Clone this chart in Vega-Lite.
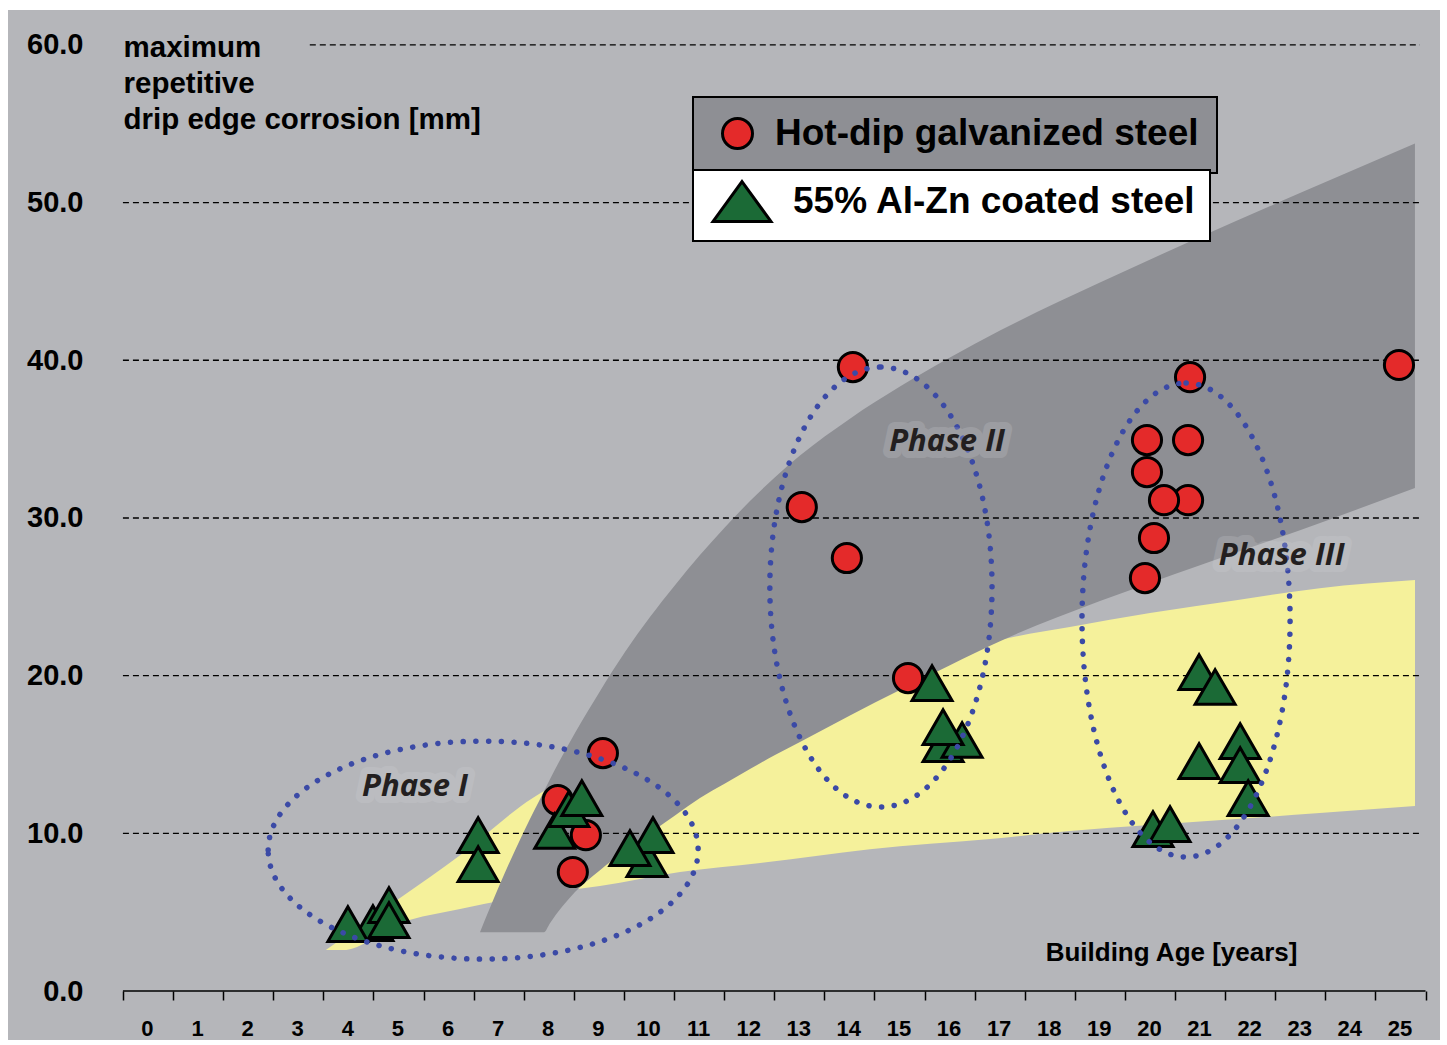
{
  "$schema": "https://vega.github.io/schema/vega-lite/v6.json",
  "width": 1432,
  "height": 1030,
  "autosize": {"type": "none"},
  "padding": {"left": 8, "top": 10, "right": 7, "bottom": 5},
  "background": "white",
  "config": {"view": {"fill": "#b5b6ba", "stroke": null}, "font": "Liberation Sans"},
  "resolve": {"scale": {"color": "independent"}, "legend": {"color": "independent"}},
  "encoding": {
    "x": {
      "field": "age", "type": "quantitative",
      "scale": {"domain": [-2.794, 25.789], "nice": false, "zero": false},
      "axis": {
        "orient": "bottom", "offset": -49,
        "values": [-0.5,0.5,1.5,2.5,3.5,4.5,5.5,6.5,7.5,8.5,9.5,10.5,11.5,12.5,13.5,14.5,15.5,16.5,17.5,18.5,19.5,20.5,21.5,22.5,23.5,24.5,25.5],
        "domain": false, "grid": false, "ticks": true, "tickSize": 9, "tickWidth": 1.5, "tickColor": "black",
        "labelExpr": "datum.value > 25 ? '' : format(datum.value + 0.5, 'd')",
        "labelOffset": 24, "labelPadding": 18, "labelFont": "Liberation Sans", "labelFontWeight": "bold",
        "labelFontSize": 22, "labelColor": "black", "labelFlush": false, "labelOverlap": false,
        "labelBaseline": "top", "labelAlign": "center",
        "title": "Building Age [years]", "titleX": 1289, "titleY": -31, "titleAlign": "right",
        "titleBaseline": "alphabetic", "titleFont": "Liberation Sans", "titleFontSize": 26,
        "titleFontWeight": "bold", "titleColor": "black"
      }
    },
    "y": {
      "field": "corr", "type": "quantitative",
      "scale": {"domain": [-3.1, 62.21], "nice": false, "zero": false},
      "axis": {
        "values": [0, 10, 20, 30, 40, 50, 60], "format": ".1f",
        "domain": false, "grid": false, "ticks": false, "tickSize": 0,
        "labelPadding": -75, "labelAlign": "right", "labelBaseline": "middle",
        "labelFont": "Liberation Sans", "labelFontWeight": "bold", "labelFontSize": 29, "labelColor": "black",
        "title": ["maximum", "repetitive", "drip edge corrosion [mm]"],
        "titleAngle": 0, "titleX": 115, "titleY": 46, "titleAlign": "left", "titleBaseline": "alphabetic",
        "titleLineHeight": 36, "titleFont": "Liberation Sans", "titleFontSize": 29.5, "titleFontWeight": "bold",
        "titleColor": "black"
      }
    }
  },
  "layer": [
    {
      "data": {"values": [
        {"age": 3.55, "corr": 2.60, "corr2": 2.60},
        {"age": 3.89, "corr": 3.36, "corr2": 2.60},
        {"age": 5.03, "corr": 5.90, "corr2": 4.31},
        {"age": 6.23, "corr": 8.62, "corr2": 5.20},
        {"age": 7.68, "corr": 12.24, "corr2": 6.09},
        {"age": 9.02, "corr": 14.33, "corr2": 6.66},
        {"age": 10.62, "corr": 15.92, "corr2": 7.55},
        {"age": 12.22, "corr": 16.55, "corr2": 8.12},
        {"age": 14.41, "corr": 18.45, "corr2": 9.00},
        {"age": 16.81, "corr": 22.07, "corr2": 9.64},
        {"age": 18.40, "corr": 23.08, "corr2": 10.15},
        {"age": 20.00, "corr": 23.97, "corr2": 10.53},
        {"age": 21.72, "corr": 24.79, "corr2": 10.91},
        {"age": 23.39, "corr": 25.55, "corr2": 11.29},
        {"age": 25.29, "corr": 26.06, "corr2": 11.73}
      ]},
      "mark": {"type": "area", "color": "#f5f19b", "interpolate": "monotone", "opacity": 1},
      "encoding": {"y2": {"field": "corr2"}}
    },
    {
      "data": {"values": [
        {"age": 6.627, "corr": 3.74, "corr2": 3.74},
        {"age": 7.026, "corr": 6.79, "corr2": 3.74},
        {"age": 7.525, "corr": 10.27, "corr2": 3.74},
        {"age": 7.904, "corr": 12.68, "corr2": 3.74},
        {"age": 8.024, "corr": 13.44, "corr2": 4.31},
        {"age": 8.523, "corr": 16.36, "corr2": 6.28},
        {"age": 9.022, "corr": 19.02, "corr2": 7.67},
        {"age": 9.521, "corr": 21.50, "corr2": 8.88},
        {"age": 10.020, "corr": 23.72, "corr2": 10.02},
        {"age": 10.519, "corr": 25.74, "corr2": 11.13},
        {"age": 11.018, "corr": 27.65, "corr2": 12.24},
        {"age": 11.517, "corr": 29.42, "corr2": 13.16},
        {"age": 12.016, "corr": 31.07, "corr2": 14.08},
        {"age": 12.515, "corr": 32.59, "corr2": 14.97},
        {"age": 13.014, "corr": 33.96, "corr2": 15.79},
        {"age": 14.012, "corr": 36.30, "corr2": 17.48},
        {"age": 15.010, "corr": 38.33, "corr2": 19.09},
        {"age": 16.008, "corr": 40.17, "corr2": 20.67},
        {"age": 17.006, "corr": 41.88, "corr2": 22.19},
        {"age": 19.002, "corr": 44.93, "corr2": 24.73},
        {"age": 20.998, "corr": 47.81, "corr2": 27.01},
        {"age": 22.994, "corr": 50.60, "corr2": 29.23},
        {"age": 25.289, "corr": 53.74, "corr2": 31.90}
      ]},
      "mark": {"type": "area", "color": "#8e8f94", "interpolate": "monotone", "opacity": 1},
      "encoding": {"y2": {"field": "corr2"}}
    },
    {
      "data": {"values": [
        {"corr": 10, "age": -0.5, "age2": 25.39},
        {"corr": 20, "age": -0.5, "age2": 25.39},
        {"corr": 30, "age": -0.5, "age2": 25.39},
        {"corr": 40, "age": -0.5, "age2": 25.39},
        {"corr": 50, "age": -0.5, "age2": 25.39},
        {"corr": 60, "age": 3.23, "age2": 25.39}
      ]},
      "mark": {"type": "rule", "color": "black", "strokeWidth": 1.3, "strokeDash": [6, 4]},
      "encoding": {"x2": {"field": "age2"}}
    },
    {
      "data": {"values": [{"corr": 0, "age": -0.5, "age2": 25.5}]},
      "mark": {"type": "rule", "color": "black", "strokeWidth": 1.5},
      "encoding": {"x2": {"field": "age2"}}
    },
    {
      "data": {"values": [
        {"age": 8.18, "corr": 12.11, "steel": "Hot-dip galvanized steel"},
        {"age": 13.05, "corr": 30.69, "steel": "Hot-dip galvanized steel"},
        {"age": 14.07, "corr": 39.57, "steel": "Hot-dip galvanized steel"},
        {"age": 13.95, "corr": 27.46, "steel": "Hot-dip galvanized steel"},
        {"age": 15.17, "corr": 19.85, "steel": "Hot-dip galvanized steel"},
        {"age": 9.08, "corr": 15.09, "steel": "Hot-dip galvanized steel"},
        {"age": 8.74, "corr": 9.89, "steel": "Hot-dip galvanized steel"},
        {"age": 8.48, "corr": 7.55, "steel": "Hot-dip galvanized steel"},
        {"age": 20.76, "corr": 34.94, "steel": "Hot-dip galvanized steel"},
        {"age": 19.94, "corr": 34.94, "steel": "Hot-dip galvanized steel"},
        {"age": 19.94, "corr": 32.91, "steel": "Hot-dip galvanized steel"},
        {"age": 20.76, "corr": 31.13, "steel": "Hot-dip galvanized steel"},
        {"age": 20.28, "corr": 31.13, "steel": "Hot-dip galvanized steel"},
        {"age": 20.08, "corr": 28.73, "steel": "Hot-dip galvanized steel"},
        {"age": 19.90, "corr": 26.19, "steel": "Hot-dip galvanized steel"},
        {"age": 20.80, "corr": 38.93, "steel": "Hot-dip galvanized steel"},
        {"age": 24.97, "corr": 39.70, "steel": "Hot-dip galvanized steel"}
      ]},
      "mark": {"type": "point", "shape": "circle", "filled": true, "size": 850, "stroke": "black", "strokeWidth": 3, "opacity": 1},
      "encoding": {
        "color": {
          "field": "steel", "type": "nominal", "scale": {"range": ["#e42a2a"]},
          "legend": {
            "orient": "none", "legendX": 685, "legendY": 87, "title": null,
            "fillColor": "#8e8f94", "strokeColor": "black", "padding": 18,
            "symbolType": "circle", "symbolSize": 900, "symbolStrokeColor": "black", "symbolStrokeWidth": 3,
            "symbolOpacity": 1, "symbolOffset": 8, "labelOffset": 19,
            "labelFont": "Liberation Sans", "labelFontWeight": "bold", "labelFontSize": 37, "labelColor": "black",
            "labelLimit": 800,
            "encode": {"legend": {"update": {"strokeWidth": {"value": 2}}}}
          }
        }
      }
    },
    {
      "data": {"values": [
        {"age": 4.49, "corr": 4.31, "coating": "55% Al-Zn coated steel"},
        {"age": 4.81, "corr": 5.45, "coating": "55% Al-Zn coated steel"},
        {"age": 4.81, "corr": 4.50, "coating": "55% Al-Zn coated steel"},
        {"age": 3.99, "corr": 4.25, "coating": "55% Al-Zn coated steel"},
        {"age": 6.59, "corr": 9.89, "coating": "55% Al-Zn coated steel"},
        {"age": 6.59, "corr": 8.05, "coating": "55% Al-Zn coated steel"},
        {"age": 8.12, "corr": 10.15, "coating": "55% Al-Zn coated steel"},
        {"age": 8.40, "corr": 11.54, "coating": "55% Al-Zn coated steel"},
        {"age": 8.66, "corr": 12.24, "coating": "55% Al-Zn coated steel"},
        {"age": 9.96, "corr": 8.37, "coating": "55% Al-Zn coated steel"},
        {"age": 10.08, "corr": 9.89, "coating": "55% Al-Zn coated steel"},
        {"age": 9.62, "corr": 9.07, "coating": "55% Al-Zn coated steel"},
        {"age": 15.65, "corr": 19.53, "coating": "55% Al-Zn coated steel"},
        {"age": 15.87, "corr": 15.66, "coating": "55% Al-Zn coated steel"},
        {"age": 16.25, "corr": 15.92, "coating": "55% Al-Zn coated steel"},
        {"age": 15.87, "corr": 16.74, "coating": "55% Al-Zn coated steel"},
        {"age": 20.98, "corr": 20.23, "coating": "55% Al-Zn coated steel"},
        {"age": 21.30, "corr": 19.28, "coating": "55% Al-Zn coated steel"},
        {"age": 21.80, "corr": 15.85, "coating": "55% Al-Zn coated steel"},
        {"age": 21.80, "corr": 14.33, "coating": "55% Al-Zn coated steel"},
        {"age": 20.98, "corr": 14.58, "coating": "55% Al-Zn coated steel"},
        {"age": 21.96, "corr": 12.24, "coating": "55% Al-Zn coated steel"},
        {"age": 20.06, "corr": 10.27, "coating": "55% Al-Zn coated steel"},
        {"age": 20.40, "corr": 10.59, "coating": "55% Al-Zn coated steel"}
      ]},
      "mark": {"type": "point", "shape": "triangle-up", "filled": true, "size": 1600, "stroke": "black", "strokeWidth": 3, "opacity": 1},
      "encoding": {
        "color": {
          "field": "coating", "type": "nominal", "scale": {"range": ["#1b6a36"]},
          "legend": {
            "orient": "none", "legendX": 685, "legendY": 160, "title": null,
            "fillColor": "white", "strokeColor": "black", "padding": 13,
            "symbolType": "M0,-1.33L1.93,1.33L-1.93,1.33Z",
            "symbolSize": 900, "symbolStrokeColor": "black", "symbolStrokeWidth": 3,
            "symbolOpacity": 1, "symbolOffset": 17.5, "labelOffset": 32.5,
            "labelFont": "Liberation Sans", "labelFontWeight": "bold", "labelFontSize": 37, "labelColor": "black",
            "labelLimit": 800,
            "encode": {"legend": {"update": {"strokeWidth": {"value": 2}}}}
          }
        }
      }
    },
    {
      "data": {"values": [{"phase": "Phase I", "age": 6.69, "corr": 8.94}]},
      "mark": {"type": "point", "filled": false, "shape": "M-1,0C-1,-0.28,-0.5523,-0.507,0,-0.507C0.5523,-0.507,1,-0.28,1,0C1,0.28,0.5523,0.507,0,0.507C-0.5523,0.507,-1,0.28,-1,0Z", "size": 184900, "stroke": "#3b4aa6", "strokeWidth": 5.5, "strokeDash": [0.1, 12.6], "strokeCap": "round", "opacity": 1}
    },
    {
      "data": {"values": [{"phase": "Phase II", "age": 14.63, "corr": 25.62}]},
      "mark": {"type": "point", "filled": false, "shape": "M0,-1C0.279,-1,0.505,-0.5523,0.505,0C0.505,0.5523,0.279,1,0,1C-0.279,1,-0.505,0.5523,-0.505,0C-0.505,-0.5523,-0.279,-1,0,-1Z", "size": 193600, "stroke": "#3b4aa6", "strokeWidth": 5.5, "strokeDash": [0.1, 12.6], "strokeCap": "round", "opacity": 1}
    },
    {
      "data": {"values": [{"phase": "Phase III", "age": 20.72, "corr": 23.53}]},
      "mark": {"type": "point", "filled": false, "shape": "M0,-1C0.2425,-1,0.439,-0.5523,0.439,0C0.439,0.5523,0.2425,1,0,1C-0.2425,1,-0.439,0.5523,-0.439,0C-0.439,-0.5523,-0.2425,-1,0,-1Z", "size": 224676, "stroke": "#3b4aa6", "strokeWidth": 5.5, "strokeDash": [0.1, 12.6], "strokeCap": "round", "opacity": 1}
    },
    {
      "data": {"values": [
        {"label": "Phase I", "age": 5.33, "corr": 12.94},
        {"label": "Phase II", "age": 15.95, "corr": 34.81},
        {"label": "Phase III", "age": 22.63, "corr": 27.58}
      ]},
      "layer": [
        {
          "mark": {"type": "text", "font": "Open Sans", "fontSize": 31, "fontStyle": "italic", "fontWeight": 700, "fill": "#d6d7da", "stroke": "#d6d7da", "strokeWidth": 14, "strokeJoin": "round", "opacity": 0.2, "align": "center", "baseline": "middle"},
          "encoding": {"text": {"field": "label"}}
        },
        {
          "mark": {"type": "text", "font": "Open Sans", "fontSize": 31, "fontStyle": "italic", "fontWeight": 700, "color": "#231f20", "align": "center", "baseline": "middle"},
          "encoding": {"text": {"field": "label"}}
        }
      ]
    }
  ]
}
